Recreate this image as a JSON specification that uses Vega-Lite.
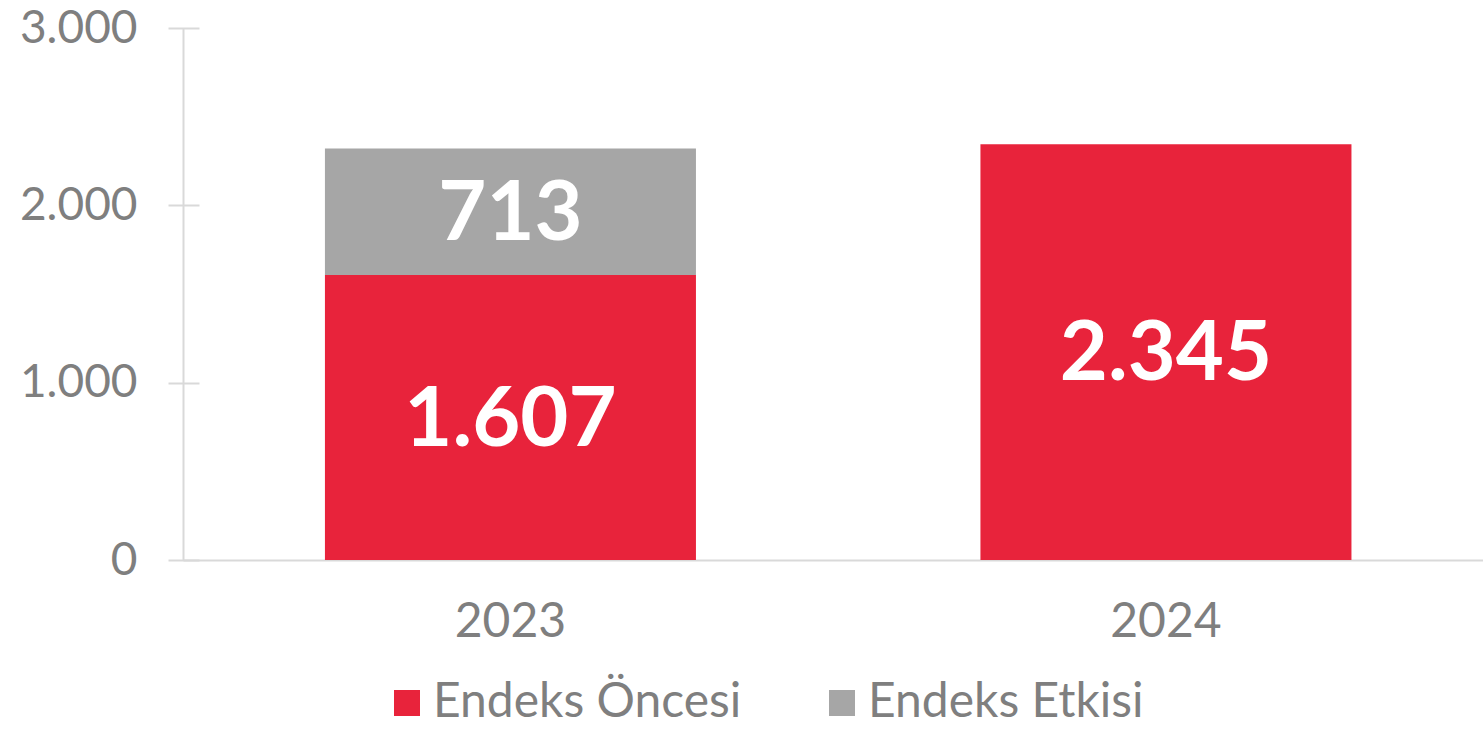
{
  "$schema": "https://vega.github.io/schema/vega-lite/v6.json",
  "width": 1300,
  "height": 532,
  "autosize": {"type": "none"},
  "padding": {"left": 183, "top": 28, "right": 0, "bottom": 171},
  "background": "white",
  "data": {
    "values": [
      {"year": "2023", "series": "Endeks Öncesi", "order": 1, "value": 1607},
      {"year": "2023", "series": "Endeks Etkisi", "order": 2, "value": 713},
      {"year": "2024", "series": "Endeks Öncesi", "order": 1, "value": 2345}
    ]
  },
  "transform": [
    {"stack": "value", "groupby": ["year"], "sort": [{"field": "order", "order": "ascending"}], "as": ["lo", "hi"]}
  ],
  "layer": [
    {
      "mark": {"type": "bar"},
      "encoding": {
        "x": {
          "field": "year", "type": "nominal",
          "scale": {"paddingInner": 0.434, "paddingOuter": 0.2086, "align": 0.519},
          "axis": {
            "title": null, "labelAngle": 0, "ticks": false, "grid": false,
            "domainColor": "#d9d9d9", "domainWidth": 2,
            "labelFont": "Lato", "labelFontSize": 48, "labelColor": "#7f7f7f",
            "labelPadding": 38
          }
        },
        "y": {
          "field": "hi", "type": "quantitative",
          "scale": {"domain": [0, 3000], "nice": false},
          "axis": {
            "title": null, "values": [0, 1000, 2000, 3000], "format": ",d",
            "domain": false, "grid": false,
            "ticks": true, "tickSize": 31, "tickColor": "#d9d9d9", "tickWidth": 2,
            "offset": -16, "labelPadding": 31,
            "labelFont": "Lato", "labelFontSize": 46, "labelColor": "#7f7f7f"
          }
        },
        "y2": {"field": "lo"},
        "color": {
          "field": "series", "type": "nominal",
          "scale": {"domain": ["Endeks Öncesi", "Endeks Etkisi"], "range": ["#E8233B", "#A6A6A6"]},
          "legend": {
            "title": null, "orient": "none", "legendX": 200, "legendY": 651,
            "direction": "horizontal", "padding": 0,
            "symbolType": "square", "symbolSize": 676, "symbolStrokeWidth": 0,
            "labelFont": "Lato", "labelFontSize": 48, "labelColor": "#7f7f7f",
            "labelOffset": 2, "labelLimit": 0, "columnPadding": 76
          }
        }
      }
    },
    {
      "transform": [
        {"fold": ["lo", "hi"], "as": ["edge", "pos"]},
        {"aggregate": [{"op": "mean", "field": "pos", "as": "mid"}], "groupby": ["year", "series", "value"]}
      ],
      "mark": {"type": "text", "font": "Lato", "fontWeight": "bold", "fontSize": 83, "color": "white", "baseline": "middle", "align": "center", "dy": 3},
      "encoding": {
        "x": {"field": "year", "type": "nominal"},
        "y": {
          "field": "mid", "type": "quantitative",
          "axis": {"title": null, "orient": "left", "domain": true, "domainColor": "#d9d9d9", "domainWidth": 2, "ticks": false, "labels": false, "grid": false}
        },
        "text": {"field": "value", "type": "quantitative", "format": ",d"}
      }
    }
  ],
  "resolve": {"axis": {"y": "independent"}},
  "config": {
    "view": {"stroke": null},
    "locale": {"number": {"decimal": ",", "thousands": ".", "grouping": [3], "currency": ["", " TL"]}}
  }
}
